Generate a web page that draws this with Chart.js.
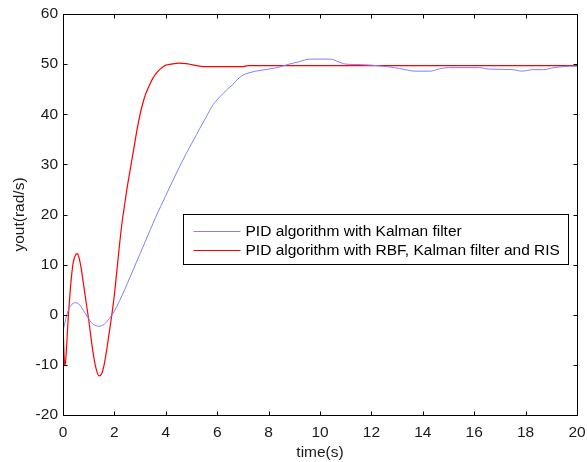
<!DOCTYPE html>
<html>
<head>
<meta charset="utf-8">
<script src="https://cdn.jsdelivr.net/npm/chart.js@4"></script>
<style>
html,body{margin:0;padding:0;background:#fff;}
#wrap{width:587px;height:462px;position:relative;}
</style>
</head>
<body>
<div id="wrap"><canvas id="c" width="587" height="462"></canvas></div>
<script>
// ---- data ----
const seriesNames = ["PID algorithm with Kalman filter", "PID algorithm with RBF, Kalman filter and RIS"];
const xTicks = [0, 2, 4, 6, 8, 10, 12, 14, 16, 18, 20];
const yTicks = [-20, -10, 0, 10, 20, 30, 40, 50, 60];

const tBlue = [0,0.1,0.2,0.3,0.4,0.5,0.6,0.7,0.8,0.9,1.0,1.1,1.2,1.3,1.4,1.5,1.6,1.7,1.8,1.9,2.0,2.2,2.4,2.6,2.8,3.0,3.2,3.4,3.6,3.8,4.0,4.2,4.4,4.6,4.8,5.0,5.2,5.4,5.6,5.8,6.0,6.2,6.4,6.6,6.8,7.0,7.2,7.5,8.0,8.4,8.8,9.2,9.6,10.0,10.4,10.7,11.0,11.6,12.0,12.4,12.9,13.3,13.7,14.3,14.6,15.0,16.2,16.6,17.5,17.85,18.3,18.7,19.1,19.9,20];
const vBlue = [-3.3,-1,0.8,1.8,2.3,2.4,2.2,1.6,0.8,0,-0.8,-1.5,-2,-2.2,-2.3,-2.2,-1.9,-1.4,-0.8,-0.1,0.7,2.8,5,7.4,9.8,12.2,14.6,17,19.4,21.6,23.8,26,28.1,30.2,32.2,34.1,36,37.9,39.7,41.6,42.9,44,45,45.9,47,47.8,48.2,48.6,49,49.4,50,50.5,51,51,51,50.5,50,49.9,49.8,49.6,49.3,48.9,48.6,48.6,49,49.3,49.3,49,48.9,48.6,48.9,48.9,49.3,49.6,49.6];

const tRed = [0,0.02,0.05,0.08,0.12,0.2,0.3,0.4,0.5,0.55,0.6,0.7,0.8,0.9,1.0,1.1,1.2,1.3,1.4,1.5,1.6,1.7,1.8,1.9,2.0,2.1,2.2,2.3,2.4,2.5,2.6,2.7,2.8,2.9,3.0,3.1,3.2,3.3,3.4,3.5,3.6,3.7,3.8,3.9,4.0,4.2,4.5,4.8,5.0,5.3,5.6,7.0,7.2,20];
const vRed = [0,-5,-9,-10.2,-8,-1,6,10.5,12,12.2,11.8,9.5,6,2.5,-1,-5,-8.5,-11,-12.2,-11.8,-10,-7,-3.5,0,4,9,14,18.5,22,25.5,28.5,31.5,34.5,37.5,40,42.1,43.8,45.1,46.2,47.2,48,48.6,49.1,49.5,49.8,50,50.2,50.1,49.9,49.6,49.5,49.5,49.7,49.7];

const FONT = "'Liberation Sans', Arial, sans-serif";
const FS = 15.5;
Chart.defaults.font.family = FONT;
Chart.defaults.font.size = FS;
Chart.defaults.color = '#1a1a1a';

const blueColor = '#7f7fff';
const redColor = '#ff0000';

const boxPlugin = {
  id: 'matlabBox',
  afterDraw(chart) {
    const ctx = chart.ctx;
    const a = chart.chartArea;
    const xs = chart.scales.x, ys = chart.scales.y;
    ctx.save();
    ctx.strokeStyle = '#000';
    ctx.lineWidth = 1;
    const L = Math.round(a.left) + 0.5, R = Math.round(a.right) + 0.5;
    const T = Math.round(a.top) + 0.5, B = Math.round(a.bottom) + 0.5;
    ctx.strokeRect(L, T, R - L, B - T);
    ctx.beginPath();
    xTicks.forEach(v => {
      const p = Math.round(xs.getPixelForValue(v)) + 0.5;
      ctx.moveTo(p, B); ctx.lineTo(p, B - 4);
      ctx.moveTo(p, T); ctx.lineTo(p, T + 4);
    });
    yTicks.forEach(v => {
      const p = Math.round(ys.getPixelForValue(v)) + 0.5;
      ctx.moveTo(L, p); ctx.lineTo(L + 4, p);
      ctx.moveTo(R, p); ctx.lineTo(R - 4, p);
    });
    ctx.stroke();

    // legend
    const lx = 183.5, ly = 214.5, lw = 385, lh = 50;
    ctx.fillStyle = '#fff';
    ctx.fillRect(lx, ly, lw, lh);
    ctx.strokeRect(lx, ly, lw, lh);
    const rows = [ly + 16.5, ly + 35.5];
    const cols = [blueColor, redColor];
    ctx.font = FS + 'px ' + FONT;
    ctx.textBaseline = 'middle';
    ctx.textAlign = 'left';
    rows.forEach((y, i) => {
      ctx.strokeStyle = cols[i];
      ctx.lineWidth = 1;
      ctx.beginPath();
      ctx.moveTo(lx + 10, Math.round(y) + 0.5);
      ctx.lineTo(lx + 57, Math.round(y) + 0.5);
      ctx.stroke();
      ctx.fillStyle = '#000';
      ctx.fillText(seriesNames[i], lx + 62, y + 0.5);
    });
    ctx.restore();
  }
};

new Chart(document.getElementById('c'), {
  type: 'scatter',
  data: {
    datasets: [
      {
        label: seriesNames[0],
        data: tBlue.map((t, i) => ({x: t, y: vBlue[i]})),
        showLine: true, borderColor: blueColor, borderWidth: 1,
        pointRadius: 0, cubicInterpolationMode: 'monotone'
      },
      {
        label: seriesNames[1],
        data: tRed.map((t, i) => ({x: t, y: vRed[i]})),
        showLine: true, borderColor: redColor, borderWidth: 1.2,
        pointRadius: 0, cubicInterpolationMode: 'monotone'
      }
    ]
  },
  options: {
    responsive: false,
    animation: false,
    layout: { padding: { left: 0, right: 10, top: 14, bottom: 0 } },
    plugins: { legend: { display: false }, tooltip: { enabled: false } },
    scales: {
      x: {
        type: 'linear', min: 0, max: 20,
        afterBuildTicks: s => { s.ticks = xTicks.map(v => ({value: v})); },
        grid: { display: false, drawTicks: false },
        border: { display: false },
        ticks: { padding: 8, maxRotation: 0, color: '#1a1a1a', font: { size: FS } },
        title: { display: true, text: 'time(s)', color: '#1a1a1a', font: { size: FS }, padding: { top: 0, bottom: 0 } },
        afterFit: s => { s.height = 47; s.paddingLeft = 0; s.paddingRight = 0; }
      },
      y: {
        type: 'linear', min: -20, max: 60,
        afterBuildTicks: s => { s.ticks = yTicks.map(v => ({value: v})); },
        grid: { display: false, drawTicks: false },
        border: { display: false },
        ticks: { padding: 5, color: '#1a1a1a', font: { size: FS } },
        title: { display: true, text: 'yout(rad/s)', color: '#1a1a1a', font: { size: FS }, padding: { top: 10, bottom: 0 } },
        afterFit: s => { s.width = 63; s.paddingTop = 0; s.paddingBottom = 0; }
      }
    }
  },
  plugins: [boxPlugin]
});
</script>
</body>
</html>
